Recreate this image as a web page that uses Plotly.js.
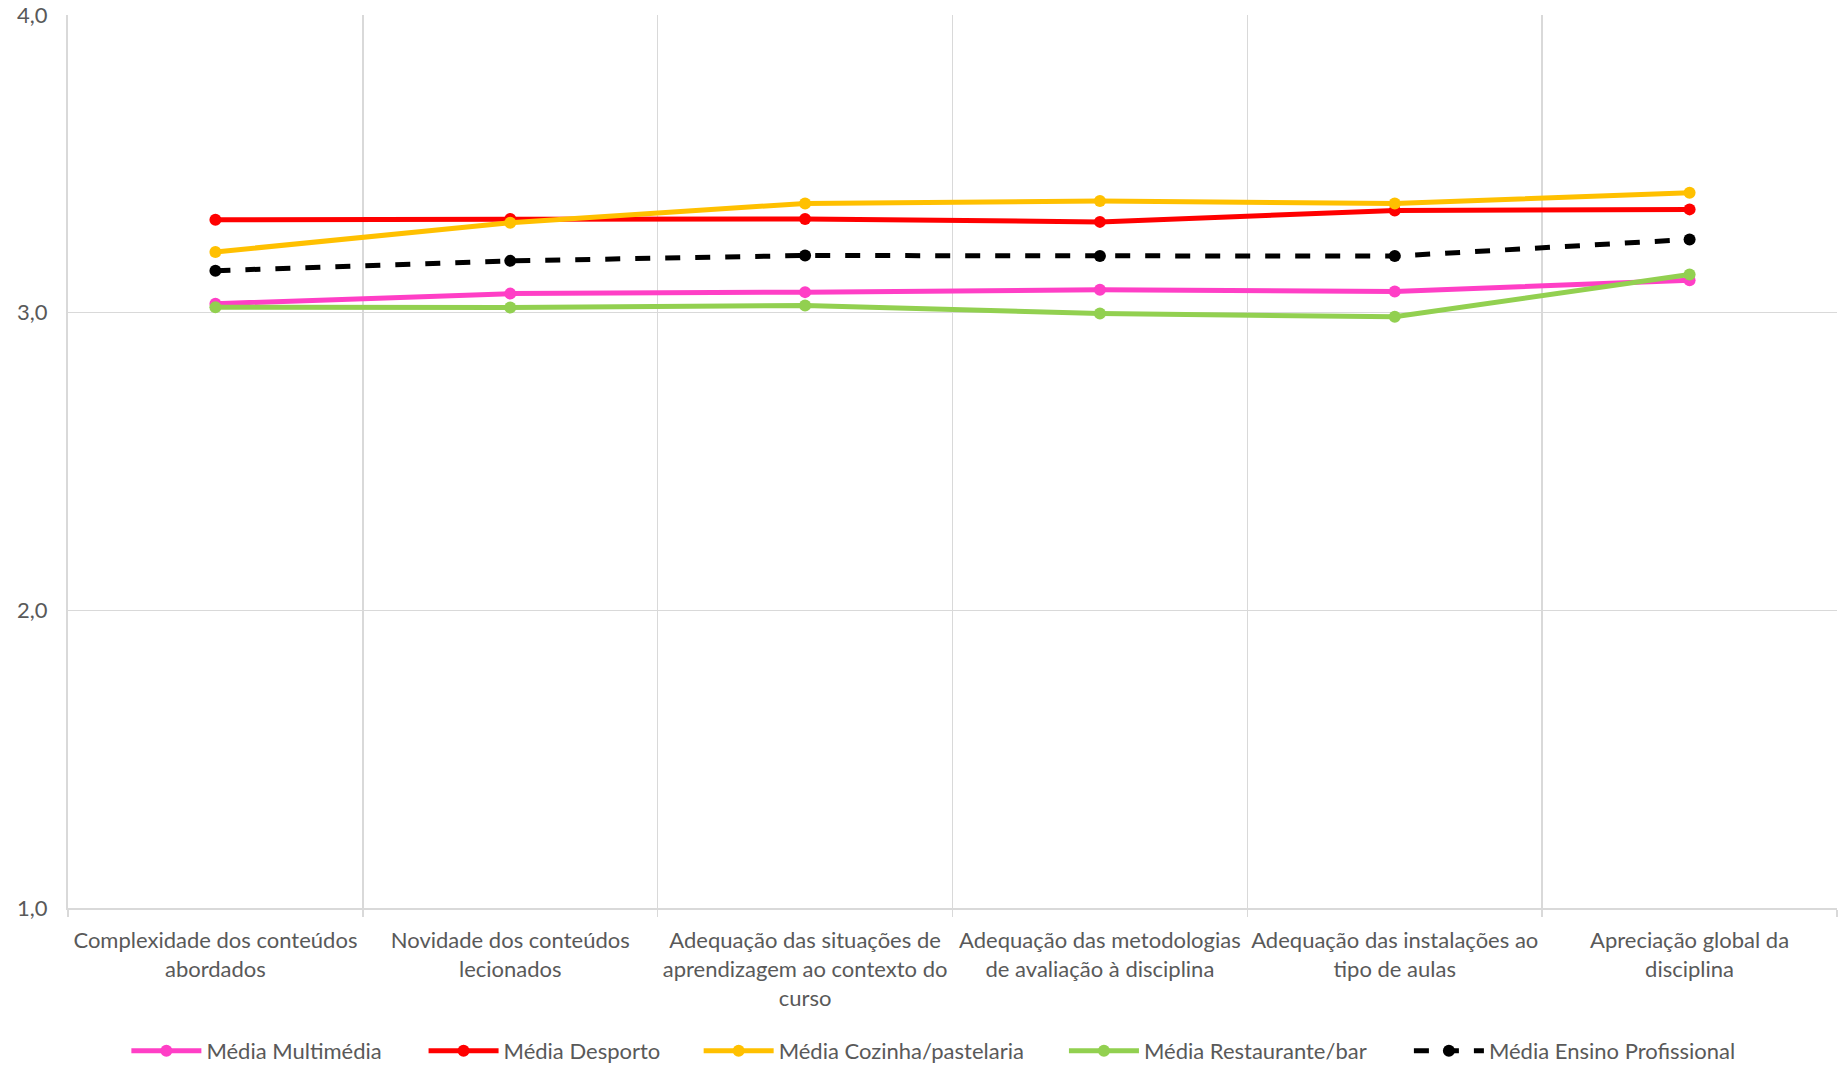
<!DOCTYPE html>
<html>
<head>
<meta charset="utf-8">
<script src="https://cdn.plot.ly/plotly-3.0.1.min.js"></script>
<style>html,body{margin:0;padding:0;background:#fff;}#chart{width:1848px;height:1068px;}</style>
</head>
<body>
<div id="chart"></div>
<script>
const categories = [
  "Complexidade dos conteúdos<br>abordados",
  "Novidade dos conteúdos<br>lecionados",
  "Adequação das situações de<br>aprendizagem ao contexto do<br>curso",
  "Adequação das metodologias<br>de avaliação à disciplina",
  "Adequação das instalações ao<br>tipo de aulas",
  "Apreciação global da<br>disciplina"
];
const seriesNames = ["Média Multimédia", "Média Desporto", "Média Cozinha/pastelaria", "Média Restaurante/bar", "Média Ensino Profissional"];
const multimedia   = [3.03, 3.064, 3.069, 3.077, 3.071, 3.109];
const desporto     = [3.312, 3.315, 3.315, 3.305, 3.343, 3.347];
const cozinha      = [3.204, 3.302, 3.367, 3.375, 3.367, 3.403];
const restaurante  = [3.018, 3.017, 3.024, 2.997, 2.986, 3.128];
const ensinoProf   = [3.141, 3.174, 3.192, 3.190, 3.190, 3.246];
const yTicks = [1, 2, 3, 4];

const colors = ["#FF3FC6", "#FF0000", "#FFC000", "#92D050", "#000000"];
const values = [multimedia, desporto, cozinha, restaurante, ensinoProf];
const xIdx = categories.map((c, i) => i);
const legendIds = ["legend", "legend2", "legend3", "legend4", "legend5"];
const legendX = [0.033, 0.201, 0.3565, 0.563, 0.758];

const traces = values.map((v, k) => ({
  type: "scatter",
  mode: "lines+markers",
  name: seriesNames[k],
  legend: legendIds[k],
  x: xIdx,
  y: v,
  line: {color: colors[k], width: 5, dash: k === 4 ? "dash" : "solid"},
  marker: {color: colors[k], size: 12, symbol: "circle"}
}));

const layout = {
  width: 1848, height: 1068,
  paper_bgcolor: "#ffffff", plot_bgcolor: "#ffffff",
  margin: {l: 68, r: 11, t: 15, b: 160, autoexpand: false},
  separators: ",.",
  font: {family: "Lato, 'Open Sans', sans-serif", size: 22, color: "#595959"},
  showlegend: true,
  xaxis: {
    type: "linear",
    automargin: false,
    range: [-0.5, 5.5],
    tickmode: "array",
    tickvals: xIdx,
    ticktext: categories,
    showgrid: false,
    zeroline: false,
    showline: true, linecolor: "#d9d9d9", linewidth: 2,
    ticks: "",
    ticklabelstandoff: 12,
    tickfont: {size: 22, color: "#595959"},
    minor: {tickmode: "array", tickvals: [-0.5, 0.5, 1.5, 2.5, 3.5, 4.5, 5.5],
            showgrid: true, gridcolor: "#d9d9d9", gridwidth: 1.5,
            ticks: "outside", ticklen: 7, tickcolor: "#d9d9d9", tickwidth: 1.5}
  },
  yaxis: {
    automargin: false,
    range: [1, 4],
    tickmode: "array",
    tickvals: yTicks,
    tickformat: ".1f",
    showgrid: true, gridcolor: "#d9d9d9", gridwidth: 1.5,
    zeroline: false,
    showline: true, linecolor: "#d9d9d9", linewidth: 2,
    ticks: "",
    ticklabelstandoff: 14,
    tickfont: {size: 22, color: "#595959"}
  }
};
legendIds.forEach((id, k) => {
  layout[id] = {orientation: "h", x: legendX[k], xanchor: "left", y: -0.16, yanchor: "middle",
                font: {size: 22, color: "#595959"}, itemwidth: 70, bgcolor: "rgba(0,0,0,0)"};
});

Plotly.newPlot("chart", traces, layout, {displayModeBar: false, staticPlot: true});
</script>
</body>
</html>
